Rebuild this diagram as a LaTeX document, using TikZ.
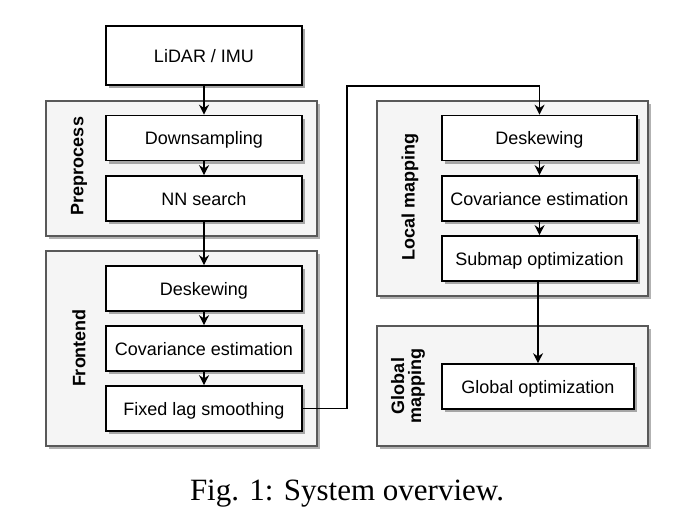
\documentclass[tikz,border=0pt]{standalone}
\usepackage{fontspec}
\setmainfont{Liberation Serif}
\setsansfont{Liberation Sans}
\usetikzlibrary{arrows.meta,shadows}
\tikzset{
  blk/.style={draw=black, line width=1.6pt, fill=white, rectangle, inner sep=0pt,
    font=\sffamily\fontsize{18}{20}\selectfont, text height=13pt, text depth=0pt,
    drop shadow={shadow xshift=3pt, shadow yshift=-3pt, fill=black!35, opacity=1}},
  grp/.style={draw=black!65, line width=1.3pt, fill=black!4, rectangle, inner sep=0pt,
    drop shadow={shadow xshift=3pt, shadow yshift=-3pt, fill=black!30, opacity=1}},
  glabel/.style={rotate=90, font=\sffamily\bfseries\fontsize{18}{20}\selectfont, align=center},
  conn/.style={draw=black, line width=1.2pt, -{Stealth[length=10pt,width=10pt]}},
}
\begin{document}
\begin{tikzpicture}[x=1pt,y=-1pt]
\useasboundingbox (0,0) rectangle (677,522);
% groups
\node[grp, minimum width=271pt, minimum height=135pt] (gpre) at (181.5,168.5) {};
\node[grp, minimum width=271pt, minimum height=195pt] (gfront) at (181.5,348.5) {};
\node[grp, minimum width=271pt, minimum height=195pt] (glocal) at (512.5,198.5) {};
\node[grp, minimum width=271pt, minimum height=120pt] (gglobal) at (512.5,386) {};
% group labels
\node[glabel] (lpre) at (79,166) {Preprocess};
\node[glabel] (lfront) at (79,348) {Frontend};
\node[glabel] (llocal) at (410,197) {Local mapping};
\node[glabel] (lglobal) at (408,386) {Global\\[-3pt]mapping};
% blocks
\node[blk, minimum width=196pt, minimum height=59pt] (lidar) at (204,55.5) {LiDAR / IMU};
\node[blk, minimum width=196pt, minimum height=45pt] (down) at (204,138) {Downsampling};
\node[blk, minimum width=196pt, minimum height=45pt] (nn) at (204,198.5) {NN search};
\node[blk, minimum width=196pt, minimum height=45pt] (fdesk) at (204,288.5) {Deskewing};
\node[blk, minimum width=196pt, minimum height=45pt] (fcov) at (204,348.5) {Covariance estimation};
\node[blk, minimum width=196pt, minimum height=45pt] (flag) at (204,408.5) {Fixed lag smoothing};
\node[blk, minimum width=195pt, minimum height=45pt] (ldesk) at (539.5,138) {Deskewing};
\node[blk, minimum width=195pt, minimum height=45pt] (lcov) at (539.5,198.5) {Covariance estimation};
\node[blk, minimum width=195pt, minimum height=45pt] (lsub) at (539.5,258.5) {Submap optimization};
\node[blk, minimum width=192pt, minimum height=45pt] (gopt) at (538,386.5) {Global optimization};
% connectors
\draw[conn] (lidar) -- (down);
\draw[conn] (down) -- (nn);
\draw[conn] (nn) -- (fdesk);
\draw[conn] (fdesk) -- (fcov);
\draw[conn] (fcov) -- (flag);
\coordinate (c1) at (347,408.5);
\coordinate (c2) at (347,86);
\coordinate (c3) at (539.5,86);
\draw[conn] (flag.east) -- (c1) -- (c2) -- (c3) -- (ldesk.north);
\draw[conn] (ldesk) -- (lcov);
\draw[conn] (lcov) -- (lsub);
\draw[conn] (lsub.south -| gopt.north) -- (gopt.north);
% caption
\node[anchor=base, font=\fontsize{31}{36}\selectfont, inner sep=0pt] (cap) at (347,500) {Fig. 1: System overview.};
\end{tikzpicture}
\end{document}
